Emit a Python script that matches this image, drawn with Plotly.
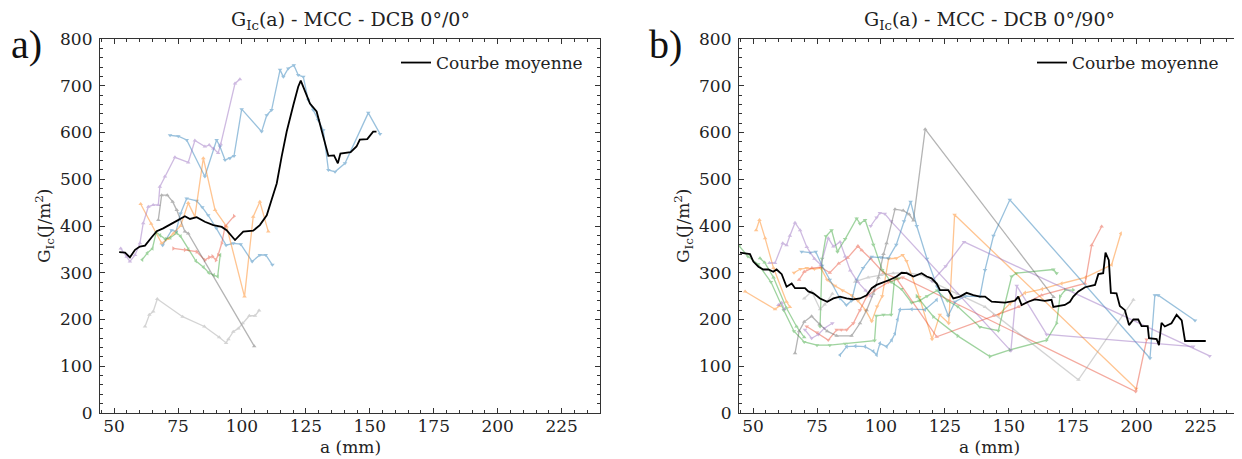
import plotly.graph_objects as go

# ---------------- data: left panel (DCB 0°/0°) ----------------
L_mean_x = [52.0, 54.3, 56.2, 58.2, 60.1, 62.1, 64.7, 66.7, 69.2, 71.9, 74.5, 77.7, 79.7, 82.3, 85.5, 88.8, 92.1, 94.0, 97.3, 100.5,
            104.4, 107.0, 109.7, 111.6, 113.6, 115.5, 117.5, 120.1, 122.0, 123.0, 124.6, 126.6, 129.2, 131.8, 133.8, 136.0, 137.5, 138.5, 140.3, 142.5,
            144.8, 146.1, 149.0, 151.3, 152.6]
L_mean_y = [344, 343, 333, 349, 356, 358, 376, 389, 395, 404, 411, 421, 415, 419, 409, 402, 398, 391, 370, 388,
            390, 402, 423, 456, 491, 548, 602, 659, 698, 711, 691, 662, 645, 591, 550, 551, 534, 555, 556, 558,
            570, 585, 586, 602, 602]

L_blue1_x = [71.9, 75.1, 78.4, 85.5, 90.1, 91.4, 93.4, 95.3, 96.9, 99.9, 107.7, 109.7, 111.6, 114.9, 116.2, 118.1, 120.3, 122.0, 124.0, 125.9,
             127.9, 129.8, 131.8, 133.8, 136.4, 140.3, 149.4, 154.0]
L_blue1_y = [594, 592, 584, 506, 584, 570, 541, 545, 550, 650, 602, 637, 648, 734, 719, 737, 744, 723, 719, 670,
             648, 627, 605, 520, 516, 534, 642, 597]
L_blue2_x = [69.0, 72.5, 74.2, 76.0, 78.4, 82.3, 84.5, 86.8, 90.0, 93.8, 96.6, 99.5, 104.0, 107.0, 109.3, 111.9]
L_blue2_y = [359, 391, 388, 427, 459, 454, 440, 423, 395, 359, 363, 361, 324, 338, 338, 317]
L_purple_x = [52.6, 54.9, 56.2, 58.2, 60.1, 61.4, 63.4, 65.3, 67.3, 67.9, 69.9, 73.8, 79.0, 81.6, 85.5, 87.2, 88.8, 90.7, 91.7, 97.3, 99.2]
L_purple_y = [352, 334, 324, 338, 363, 406, 441, 445, 445, 484, 506, 547, 536, 583, 570, 573, 566, 556, 575, 705, 714]
L_graydark_x = [67.3, 68.6, 70.8, 72.9, 74.5, 77.7, 79.0, 104.8]
L_graydark_y = [413, 466, 466, 452, 434, 388, 384, 143]
L_graylight_x = [62.1, 63.8, 65.3, 66.9, 76.8, 85.3, 91.1, 93.8, 94.7, 96.6, 98.6, 100.3, 102.9, 105.1, 106.7]
L_graylight_y = [185, 210, 217, 244, 206, 185, 162, 150, 158, 174, 181, 192, 208, 208, 219]
L_green_x = [61.0, 63.0, 65.0, 66.5, 68.0, 70.0, 72.0, 74.5, 76.0, 79.0, 82.0, 85.0, 87.0, 89.0, 90.5, 91.5]
L_green_y = [328, 342, 352, 387, 380, 372, 375, 385, 378, 350, 325, 312, 300, 295, 292, 338]
L_red_x = [73.2, 77.7, 82.3, 85.5, 87.2, 88.5, 89.8, 90.7, 92.1, 93.4, 96.9]
L_red_y = [352, 349, 345, 327, 333, 335, 327, 338, 363, 399, 421]
L_orange_x = [60.4, 64.5, 68.6, 71.0, 73.2, 76.0, 79.0, 81.6, 84.9, 89.5, 94.0, 101.0, 104.4, 107.0, 110.3]
L_orange_y = [447, 405, 363, 372, 384, 400, 449, 420, 545, 434, 399, 249, 420, 452, 388]

# ---------------- data: right panel (DCB 0°/90°) ----------------
R_mean_x = [44.9, 48.8, 50.1, 52.1, 54.0, 56.0, 57.9, 59.2, 61.2, 63.1, 65.1, 66.4, 70.3, 71.6, 73.6, 76.2, 79.0, 81.4, 84.0, 86.6,
            89.2, 91.8, 94.4, 96.4, 98.3, 101.0, 103.5, 106.1, 108.1, 110.1, 112.7, 115.9, 117.9, 119.8, 121.8, 123.1, 126.3, 128.3, 130.9, 133.5,
            136.1, 138.7, 140.7, 143.3, 148.5, 152.4, 153.7, 155.0, 157.6, 160.2, 164.1, 166.7, 167.4, 171.9, 173.9, 175.2, 177.2, 179.8, 183.7, 185.0,
            186.9, 187.8, 189.1, 189.9, 192.1, 193.4, 195.4, 197.0, 198.7, 200.6, 201.9, 204.3, 204.8, 207.8, 208.7, 209.7, 211.0, 213.6, 215.6, 217.6,
            218.9, 227.0]
R_mean_y = [343, 340, 324, 313, 307, 307, 302, 307, 297, 270, 277, 267, 267, 260, 256, 245, 238, 245, 249, 245,
            243, 245, 252, 267, 274, 279, 285, 292, 300, 299, 292, 299, 292, 288, 277, 263, 263, 245, 249, 257,
            252, 249, 249, 238, 236, 240, 249, 231, 238, 243, 240, 242, 227, 231, 238, 249, 260, 269, 274, 297,
            299, 343, 327, 257, 256, 229, 220, 188, 200, 200, 186, 186, 160, 158, 145, 193, 185, 192, 210, 198,
            154, 154]

R_or1_x = [46.9, 58.6, 60.3]
R_or1_y = [260, 222, 229]
R_or2_x = [51.2, 52.5, 54.7, 58.0, 63.1, 64.4]
R_or2_y = [391, 413, 374, 310, 238, 227]
R_or3_x = [66.0, 68.5, 71.0, 74.0, 76.5, 79.0, 82.0, 85.0, 88.5, 91.0, 94.0, 96.4, 98.5, 100.5, 103.0, 106.0, 108.5, 110.0, 115.0, 120.0,
           123.0, 126.5, 128.8, 199.8]
R_or3_y = [300, 308, 310, 308, 310, 285, 272, 262, 252, 240, 220, 196, 228, 250, 330, 331, 338, 325, 248, 158,
           210, 192, 424, 52]
R_or4_x = [146.0, 150.5, 156.3, 163.0, 170.6, 180.0, 190.2, 193.8]
R_or4_y = [210, 234, 257, 265, 277, 290, 317, 384]
R_red1_x = [68.0, 70.0, 73.0, 76.5, 80.0, 83.5, 87.0, 91.0, 92.5, 96.0, 101.0, 106.0, 121.8, 144.0, 153.7, 162.8, 179.8, 182.4, 186.3]
R_red1_y = [285, 302, 310, 312, 300, 320, 332, 357, 348, 330, 300, 288, 163, 208, 227, 252, 277, 359, 399]
R_red2_x = [71.0, 75.0, 79.4, 82.7, 84.5, 86.6, 89.2, 91.8, 94.5, 97.5, 103.0, 108.5, 199.6, 203.9]
R_red2_y = [185, 172, 156, 178, 178, 178, 192, 220, 250, 262, 280, 290, 46, 157]
R_gr1_x = [44.5, 48.0, 52.0, 57.0, 62.0, 66.0, 70.0, 75.0, 80.0, 86.0, 97.5, 98.2, 101.0, 104.0, 105.3, 107.0]
R_gr1_y = [358, 335, 318, 280, 220, 175, 152, 145, 145, 148, 155, 208, 210, 210, 286, 288]
R_gr2_x = [52.7, 54.5, 58.0, 63.0, 67.0, 70.0]
R_gr2_y = [331, 322, 290, 225, 185, 162]
R_gr3_x = [76.2, 77.0, 78.5, 80.7, 83.0, 86.0, 90.5, 91.8, 93.8, 97.0, 100.5, 104.0, 108.0, 112.0, 115.0, 118.0, 122.0, 126.0, 130.0, 138.7,
           145.9, 151.1, 153.0, 167.4, 168.7]
R_gr3_y = [185, 330, 378, 391, 345, 372, 416, 405, 413, 360, 306, 280, 265, 236, 240, 250, 262, 240, 228, 184,
           176, 292, 299, 307, 299]
R_gr4_x = [114.0, 120.5, 130.0, 142.6, 150.4, 164.8, 168.7, 170.0, 172.0, 175.2]
R_gr4_y = [250, 206, 165, 121, 135, 156, 192, 249, 263, 263]
R_bl1_x = [69.0, 72.3, 74.5, 77.0, 80.0, 84.0, 86.5, 88.5, 90.5, 93.0, 96.4, 100.0, 102.9, 106.0, 109.0, 111.6, 114.0, 118.0, 122.0, 126.3,
           129.0, 133.0, 138.7, 140.7, 144.0, 150.4, 205.2, 207.1, 208.4, 222.8]
R_bl1_y = [345, 343, 345, 315, 285, 245, 231, 240, 285, 310, 334, 333, 331, 360, 410, 452, 400, 330, 270, 208,
           238, 250, 249, 306, 379, 456, 117, 252, 252, 198]
R_bl2_x = [84.0, 86.6, 90.0, 93.8, 97.0, 98.3, 99.6, 102.2, 104.2, 105.5, 106.5, 107.4, 112.0, 117.2, 121.8]
R_bl2_y = [124, 142, 143, 142, 132, 124, 149, 142, 156, 170, 200, 221, 222, 221, 242]
R_pu1_x = [56.4, 58.6, 61.6, 63.1, 64.4, 66.4, 68.4, 71.0, 74.0, 76.5, 79.4, 81.4, 84.0, 86.0, 88.0, 91.0, 94.0, 96.0]
R_pu1_y = [321, 321, 363, 359, 379, 407, 391, 355, 330, 317, 374, 356, 366, 335, 305, 280, 262, 250]
R_pu2_x = [59.9, 61.2, 62.2]
R_pu2_y = [231, 236, 222]
R_pu3_x = [70.3, 72.9, 75.5, 78.0, 81.0]
R_pu3_y = [178, 160, 168, 182, 192]
R_pu4_x = [96.0, 98.3, 99.6, 101.5, 104.0, 150.8, 153.1, 164.8, 222.1]
R_pu4_y = [400, 418, 428, 426, 410, 133, 272, 168, 142]
R_pu5_x = [120.0, 125.3, 132.5, 228.5]
R_pu5_y = [282, 314, 366, 122]
R_gd_x = [66.4, 68.0, 70.0, 72.9, 76.0, 79.0, 82.7, 88.5, 91.8, 94.4, 97.0, 99.0, 101.0, 102.2, 105.5, 108.7, 111.0, 112.7, 117.3, 167.5]
R_gd_y = [128, 175, 195, 207, 190, 175, 165, 165, 192, 220, 255, 290, 340, 363, 436, 433, 425, 412, 607, 248]
R_gl1_x = [70.0, 72.9, 76.2, 78.0, 81.0]
R_gl1_y = [245, 260, 222, 232, 255]
R_gl2_x = [89.9, 95.0, 100.0, 104.8, 110.0, 116.0, 122.0, 130.0, 140.7, 177.2, 198.7]
R_gl2_y = [281, 290, 295, 299, 300, 295, 275, 255, 227, 71, 242]

x_ticks = [50, 75, 100, 125, 150, 175, 200, 225]
y_ticks = [0, 100, 200, 300, 400, 500, 600, 700, 800]

# ---------------- style ----------------
BLUE, ORANGE, GREEN, RED, PURPLE = "#1f77b4", "#ff7f0e", "#2ca02c", "#e8452c", "#9467bd"
GDARK, GLIGHT = "#5a5a5a", "#a0a0a0"
FONT = "DejaVu Serif"
PFONT = "Liberation Serif"

left_series = [
    (L_blue1_x, L_blue1_y, BLUE, "triangle-down"),
    (L_blue2_x, L_blue2_y, BLUE, "triangle-down"),
    (L_orange_x, L_orange_y, ORANGE, "triangle-up"),
    (L_green_x, L_green_y, GREEN, "triangle-left"),
    (L_red_x, L_red_y, RED, "triangle-right"),
    (L_purple_x, L_purple_y, PURPLE, "triangle-up"),
    (L_graydark_x, L_graydark_y, GDARK, "triangle-up"),
    (L_graylight_x, L_graylight_y, GLIGHT, "triangle-up"),
]
right_series = [
    (R_or1_x, R_or1_y, ORANGE, "triangle-up"),
    (R_or2_x, R_or2_y, ORANGE, "triangle-up"),
    (R_or3_x, R_or3_y, ORANGE, "triangle-down"),
    (R_or4_x, R_or4_y, ORANGE, "triangle-left"),
    (R_red1_x, R_red1_y, RED, "triangle-up"),
    (R_red2_x, R_red2_y, RED, "triangle-down"),
    (R_gr1_x, R_gr1_y, GREEN, "triangle-down"),
    (R_gr2_x, R_gr2_y, GREEN, "triangle-up"),
    (R_gr3_x, R_gr3_y, GREEN, "triangle-down"),
    (R_gr4_x, R_gr4_y, GREEN, "triangle-right"),
    (R_bl1_x, R_bl1_y, BLUE, "triangle-down"),
    (R_bl2_x, R_bl2_y, BLUE, "triangle-left"),
    (R_pu1_x, R_pu1_y, PURPLE, "triangle-up"),
    (R_pu2_x, R_pu2_y, PURPLE, "triangle-up"),
    (R_pu3_x, R_pu3_y, PURPLE, "triangle-down"),
    (R_pu4_x, R_pu4_y, PURPLE, "triangle-down"),
    (R_pu5_x, R_pu5_y, PURPLE, "triangle-down"),
    (R_gd_x, R_gd_y, GDARK, "triangle-up"),
    (R_gl1_x, R_gl1_y, GLIGHT, "triangle-up"),
    (R_gl2_x, R_gl2_y, GLIGHT, "triangle-up"),
]

fig = go.Figure()


def add_series(series, xa, ya):
    for xs, ys, col, sym in series:
        fig.add_trace(go.Scatter(
            x=xs, y=ys, mode="lines+markers", xaxis=xa, yaxis=ya,
            line=dict(color=col, width=1.3), marker=dict(color=col, size=4, symbol=sym),
            opacity=0.45, showlegend=False, hoverinfo="skip", cliponaxis=True))


add_series(left_series, "x", "y")
fig.add_trace(go.Scatter(x=L_mean_x, y=L_mean_y, mode="lines", xaxis="x", yaxis="y",
                         line=dict(color="black", width=1.8), name="Courbe moyenne",
                         legend="legend", showlegend=True))
add_series(right_series, "x2", "y2")
fig.add_trace(go.Scatter(x=R_mean_x, y=R_mean_y, mode="lines", xaxis="x2", yaxis="y2",
                         line=dict(color="black", width=1.8), name="Courbe moyenne",
                         legend="legend2", showlegend=True))

W, H = 1242, 459
OFF = 8  # the page body margin shifts the figure by this many pixels


def px(xs):
    return (xs - OFF) / W


def py(ys):
    return 1 - (ys - OFF) / H


L0, L1 = px(100), px(600)
R0, R1 = px(739), px(1239)
YB, YT = py(413), py(39)

tickfont = dict(family=FONT, size=17, color="#222")
axis_common = dict(showline=True, linecolor="#333", linewidth=1.2, mirror="allticks",
                   ticks="inside", ticklen=5, tickwidth=1.1, tickcolor="#333",
                   showgrid=False, zeroline=False, tickfont=tickfont, automargin=False)

xa = dict(axis_common, range=[44.5, 240], tickmode="array", tickvals=x_ticks, ticklabelstandoff=-3,
          minor=dict(ticks="inside", ticklen=3, dtick=5, tick0=0, tickcolor="#333", showgrid=False))
ya = dict(axis_common, range=[0, 800], tickmode="array", tickvals=y_ticks, ticklabelstandoff=3,
          minor=dict(ticks="inside", ticklen=3, dtick=20, tick0=0, tickcolor="#333", showgrid=False))

fig.update_layout(
    width=W, height=H, margin=dict(l=0, r=0, t=0, b=0, autoexpand=False),
    paper_bgcolor="white", plot_bgcolor="white",
    xaxis=dict(xa, domain=[L0, L1], anchor="y"),
    yaxis=dict(ya, domain=[YB, YT], anchor="x"),
    xaxis2=dict(xa, domain=[R0, R1], anchor="y2"),
    yaxis2=dict(ya, domain=[YB, YT], anchor="x2"),
    legend=dict(x=px(588), y=py(45), xanchor="right", yanchor="top",
                font=dict(family=FONT, size=17, color="#222"), bgcolor="rgba(0,0,0,0)"),
    legend2=dict(x=px(1224), y=py(45), xanchor="right", yanchor="top",
                 font=dict(family=FONT, size=17, color="#222"), bgcolor="rgba(0,0,0,0)"),
)

ann = []
for (d0, d1, label, panel) in [(100, 600, "0°/0°", "a)"), (739, 1239, "0°/90°", "b)")]:
    cx = (d0 + d1) / 2
    ann.append(dict(x=px(cx), y=py(20), xref="paper", yref="paper", showarrow=False,
                    text="G<sub>Ic</sub>(a) - MCC - DCB " + label, xanchor="center", yanchor="middle",
                    font=dict(family=FONT, size=19, color="#222")))
    ann.append(dict(x=px(cx), y=py(447), xref="paper", yref="paper", showarrow=False,
                    text="a (mm)", xanchor="center", yanchor="middle",
                    font=dict(family=FONT, size=17, color="#222")))
    ann.append(dict(x=px(d0 - 55), y=(YB + YT) / 2, xref="paper", yref="paper", showarrow=False,
                    text="G<sub>Ic</sub>(J/m<sup>2</sup>)", textangle=-90, xanchor="center", yanchor="middle",
                    font=dict(family=FONT, size=17, color="#222")))
    ann.append(dict(x=px(d0 - 74), y=py(45), xref="paper", yref="paper", showarrow=False,
                    text=panel, xanchor="center", yanchor="middle",
                    font=dict(family=PFONT, size=40, color="#111")))
fig.update_layout(annotations=ann)

fig.write_html("out.html")
